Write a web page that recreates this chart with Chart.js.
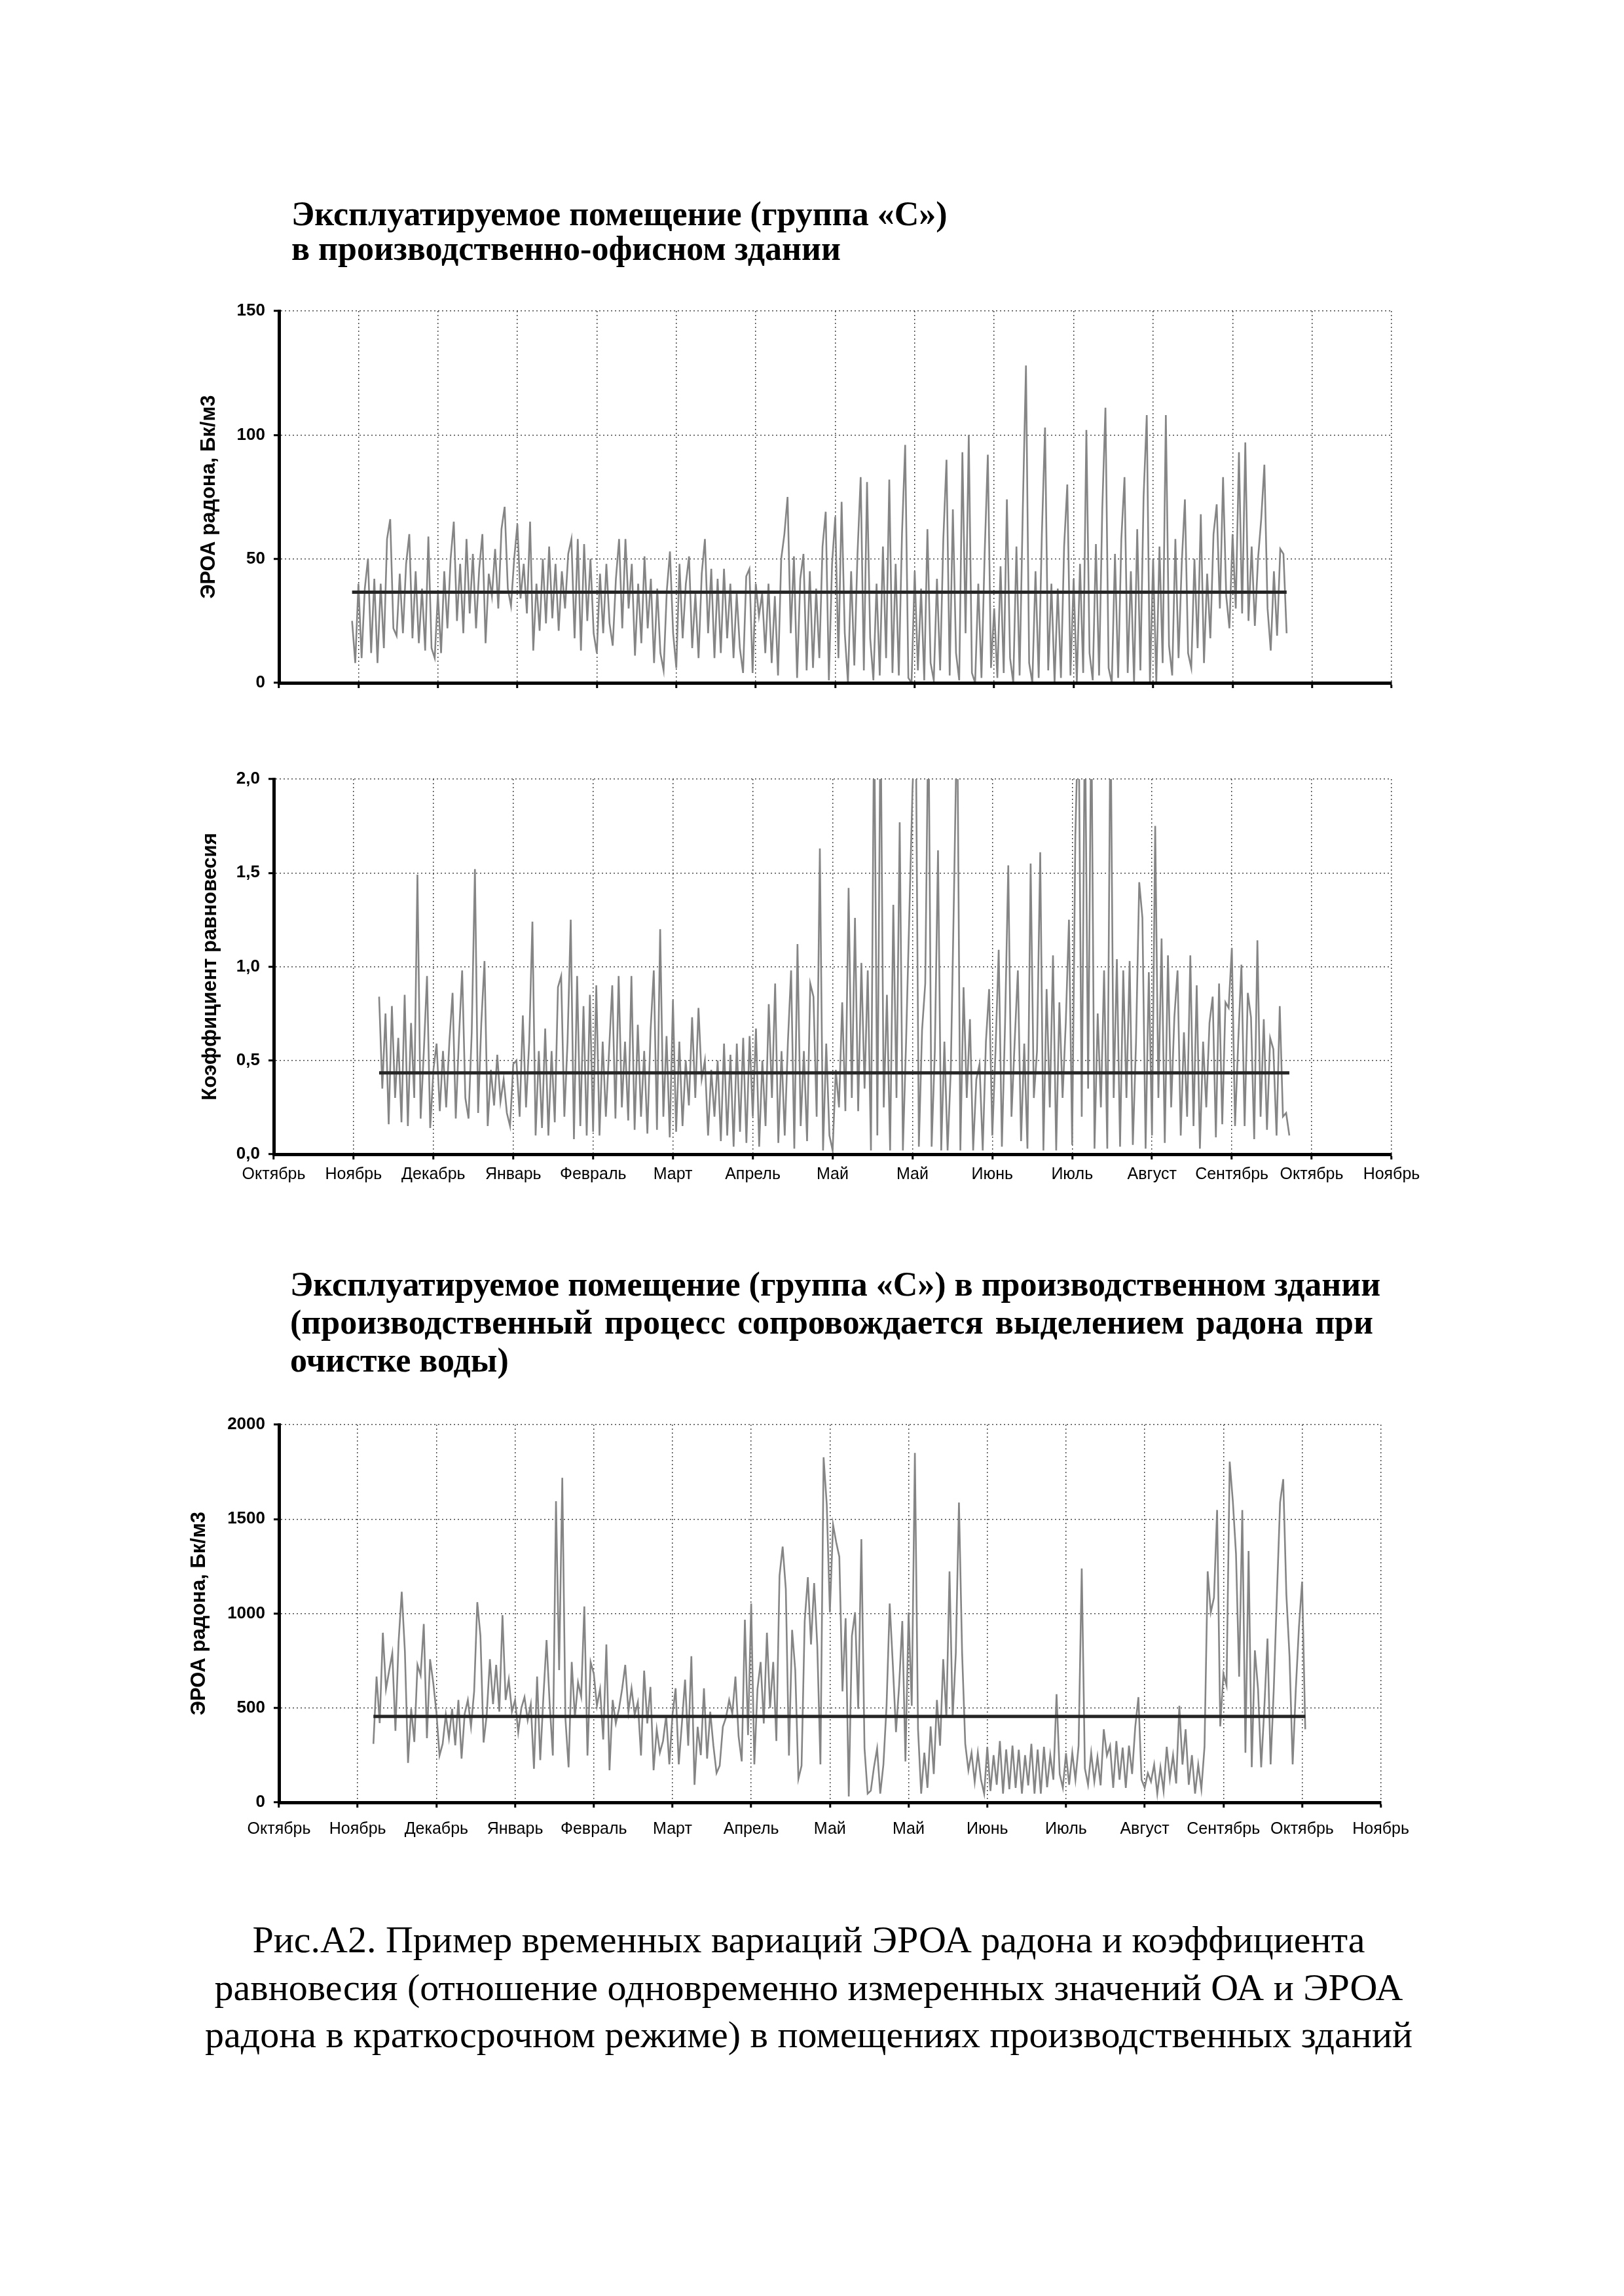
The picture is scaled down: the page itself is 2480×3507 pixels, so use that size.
<!DOCTYPE html>
<html lang="ru">
<head>
<meta charset="UTF-8">
<title>Рис.А2. Временные вариации ЭРОА радона</title>
<script src="https://cdn.jsdelivr.net/npm/chart.js"></script>
<style>
  html, body { margin: 0; padding: 0; background: #fff; }
  body {
    width: 2480px; height: 3507px; position: relative; overflow: hidden;
    font-family: 'Liberation Serif', 'Times New Roman', serif; color: #000;
  }
  .title { position: absolute; font-weight: bold; font-size: 52px; white-space: nowrap; }
  #title1 { left: 445px; top: 300px; line-height: 53px; }
  #title2 { left: 443px; top: 1933px; width: 1654px; line-height: 58px; }
  #title2 .j { text-align: justify; text-align-last: justify; }
  #caption {
    position: absolute; left: 235px; width: 2000px; top: 2927px;
    text-align: center; font-size: 58px; line-height: 72.5px; white-space: nowrap;
  }
  canvas { position: absolute; }
  #c1 { left: 250px; top: 440px; }
  #c2 { left: 250px; top: 1150px; }
  #c3 { left: 250px; top: 2136px; }
</style>
</head>
<body>
  <div class="title" id="title1">Эксплуатируемое помещение (группа «С»)<br>в производственно-офисном здании</div>
  <canvas id="c1" width="1935" height="633"></canvas>
  <canvas id="c2" width="1935" height="673"></canvas>
  <div class="title" id="title2">
    <div class="j">Эксплуатируемое помещение (группа «С») в производственном здании</div>
    <div class="j">(производственный процесс сопровождается выделением радона при</div>
    <div>очистке воды)</div>
  </div>
  <canvas id="c3" width="1920" height="687"></canvas>
  <div id="caption">Рис.А2. Пример временных вариаций ЭРОА радона и коэффициента<br>равновесия (отношение одновременно измеренных значений ОА и ЭРОА<br>радона в краткосрочном режиме) в помещениях производственных зданий</div>
<script>
const MONTHS = ['Октябрь', 'Ноябрь', 'Декабрь', 'Январь', 'Февраль', 'Март', 'Апрель',
  'Май', 'Май', 'Июнь', 'Июль', 'Август', 'Сентябрь', 'Октябрь', 'Ноябрь'];

// шаг по времени, доля месяца между соседними отсчётами
const STEP = 0.04;

// ЭРОА радона, производственно-офисное здание, Бк/м3 (с 0.92 месяца)
const EROA_OFFICE_START = 0.92;
const EROA_OFFICE_MEAN = 36.6;
const EROA_OFFICE = [
  25, 8,
  40, 10, 38, 50, 12, 42, 8, 40, 14, 58, 66, 22, 19, 44, 20, 48, 60, 18, 45, 16, 38, 13, 59, 14, 10,
  36, 12, 45, 22, 50, 65, 25, 48, 20, 58, 28, 52, 22, 46, 60, 16, 44, 35, 54, 30, 62, 71, 38, 31, 50,
  64, 34, 48, 28, 65, 13, 40, 21, 50, 24, 55, 26, 48, 21, 45, 30, 52, 58, 18, 58, 13, 56, 25, 50, 20,
  12, 44, 20, 48, 24, 15, 42, 58, 22, 58, 30, 48, 11, 40, 16, 51, 22, 42, 8, 38, 12, 5, 37, 53, 20,
  6, 48, 18, 40, 51, 14, 36, 10, 44, 58, 20, 46, 10, 42, 12, 46, 18, 40, 10, 36, 14, 4, 43, 46, 4,
  40, 27, 36, 12, 40, 8, 35, 3, 50, 60, 75, 20, 51, 2, 42, 52, 5, 45, 6, 38, 10, 55, 69, 1, 48,
  67, 10, 73, 20, 0, 45, 7, 52, 83, 5, 81, 18, 1, 40, 3, 55, 10, 82, 4, 48, 3, 60, 96, 2, 0,
  45, 5, 38, 1, 62, 8, 1, 42, 5, 58, 90, 3, 70, 12, 1, 93, 20, 100, 4, 0, 40, 2, 52, 92, 6,
  30, 2, 47, 4, 74, 10, 0, 55, 3, 70, 128, 8, 0, 45, 2, 60, 103, 5, 40, 0, 38, 2, 55, 80, 3,
  42, 0, 48, 4, 102, 12, 1, 56, 3, 70, 111, 6, 0, 52, 2, 58, 83, 4, 45, 0, 62, 5, 75, 108, 0,
  50, 0, 55, 8, 108, 15, 3, 58, 10, 48, 74, 12, 6, 50, 14, 68, 8, 44, 18, 60, 72, 30, 83, 35, 22,
  60, 30, 93, 28, 97, 25, 55, 23, 50, 66, 88, 30, 13, 45, 19, 54, 52, 20
];

// коэффициент равновесия, то же помещение (с 1.32 месяца)
const COEF_START = 1.32;
const COEF_MEAN = 0.434;
const COEF = [
  0.84, 0.35, 0.75, 0.16, 0.79, 0.30, 0.62, 0.17, 0.85, 0.15, 0.70, 0.30, 1.49, 0.19, 0.55, 0.95, 0.14,
  0.45, 0.59, 0.23, 0.55, 0.25, 0.60, 0.86, 0.19, 0.62, 0.98, 0.30, 0.19, 0.65, 1.52, 0.22, 0.70, 1.03, 0.15, 0.45, 0.26, 0.53, 0.28, 0.40, 0.22, 0.15,
  0.48, 0.50, 0.20, 0.74, 0.25, 0.60, 1.24, 0.10, 0.55, 0.14, 0.67, 0.10, 0.55, 0.17, 0.89, 0.95, 0.20, 0.60, 1.25, 0.08, 0.95, 0.15, 0.79, 0.10, 0.85,
  0.12, 0.90, 0.10, 0.60, 0.20, 0.55, 0.90, 0.19, 0.95, 0.25, 0.60, 0.18, 0.95, 0.13, 0.69, 0.20, 0.55, 0.11, 0.66, 0.98, 0.13, 1.20, 0.20, 0.63, 0.09,
  0.82, 0.12, 0.60, 0.15, 0.50, 0.26, 0.73, 0.30, 0.78, 0.40, 0.50, 0.10, 0.45, 0.20, 0.50, 0.07, 0.59, 0.10, 0.53, 0.04, 0.59, 0.12, 0.62, 0.06, 0.63,
  0.20, 0.67, 0.04, 0.50, 0.15, 0.80, 0.30, 0.91, 0.06, 0.55, 0.10, 0.60, 0.98, 0.03, 1.12, 0.15, 0.55, 0.07, 0.91, 0.84, 0.20, 1.63, 0.02, 0.59, 0.10,
  0.02, 0.45, 0.25, 0.81, 0.23, 1.42, 0.30, 1.26, 0.23, 1.02, 0.35, 0.98, 0.02, 2.4, 0.10, 2.4, 0.25, 0.85, 0.02, 1.33, 0.30, 1.77, 0.02, 0.60, 1.27,
  1.94, 2.4, 0.04, 0.66, 0.91, 2.4, 0.04, 0.55, 1.62, 0.02, 0.60, 0.02, 0.45, 1.39, 2.4, 0.02, 0.89, 0.30, 0.72, 0.02, 0.40, 0.48, 0.02, 0.60, 0.88,
  0.10, 0.55, 1.09, 0.04, 0.70, 1.54, 0.20, 0.60, 0.98, 0.07, 0.59, 0.03, 1.55, 0.30, 0.55, 1.61, 0.02, 0.88, 0.25, 1.06, 0.02, 0.81, 0.30, 0.70, 1.25,
  0.05, 1.70, 2.4, 0.20, 2.4, 0.35, 2.4, 0.03, 0.75, 0.25, 0.98, 0.03, 2.4, 0.30, 1.04, 0.04, 0.98, 0.30, 1.03, 0.05, 0.60, 1.45, 1.26, 0.03, 0.97,
  0.10, 1.75, 0.30, 1.15, 0.06, 1.06, 0.25, 0.73, 0.98, 0.10, 0.65, 0.20, 1.06, 0.15, 0.90, 0.03, 0.60, 0.25, 0.70, 0.84, 0.09, 0.91, 0.16, 0.81, 0.78,
  1.10, 0.15, 0.60, 1.01, 0.15, 0.86, 0.73, 0.08, 1.14, 0.20, 0.72, 0.13, 0.62, 0.56, 0.10, 0.79, 0.20, 0.22, 0.10
];

// ЭРОА радона, производственное здание (очистка воды), Бк/м3 (с 1.20 месяца)
const EROA_PROD_START = 1.20;
const EROA_PROD_MEAN = 455;
const EROA_PROD = [
  310, 666, 420, 898, 600, 697, 790, 379, 851, 1115, 800, 209, 495, 320, 728, 673, 944, 340, 758, 635,
  480, 248, 310, 464, 340, 495, 302, 542, 232, 470, 542, 400, 588, 1060, 882, 317, 464, 758, 520, 728, 480, 991, 542, 650, 480,
  542, 372, 500, 557, 435, 520, 178, 666, 224, 560, 859, 519, 248, 1594, 700, 1718, 441, 186, 743, 450, 635, 560, 1037, 248, 743,
  681, 511, 600, 333, 836, 170, 542, 418, 495, 600, 728, 480, 604, 464, 530, 248, 697, 418, 611, 170, 387, 263, 325, 460, 201,
  464, 604, 201, 420, 650, 300, 774, 93, 400, 250, 604, 232, 480, 300, 155, 194, 400, 449, 542, 470, 666, 350, 217, 967, 356,
  1053, 201, 600, 743, 418, 898, 500, 743, 325, 1200, 1354, 1130, 248, 913, 700, 124, 194, 960, 1192, 836, 1161, 828, 201, 1827, 1579,
  1006, 1471, 1378, 1300, 588, 975, 31, 882, 1006, 495, 1393, 286, 46, 62, 186, 286, 46, 200, 511, 1053, 728, 372, 619, 960, 217,
  1006, 511, 1850, 387, 46, 263, 77, 402, 150, 542, 300, 758, 449, 1223, 449, 790, 1587, 790, 310, 170, 263, 108, 263, 120, 46,
  294, 60, 250, 93, 325, 46, 280, 70, 300, 77, 279, 46, 250, 90, 310, 46, 280, 46, 294, 80, 250, 120, 573, 150, 77,
  260, 93, 263, 120, 300, 1238, 180, 93, 263, 110, 240, 90, 387, 248, 300, 77, 325, 120, 290, 77, 300, 150, 400, 557, 120,
  77, 155, 110, 200, 46, 186, 60, 294, 124, 250, 100, 511, 200, 387, 93, 250, 46, 200, 70, 294, 1223, 1006, 1084, 1548, 402,
  681, 619, 1804, 1594, 1316, 666, 1548, 263, 1331, 186, 805, 600, 186, 500, 867, 201, 600, 1100, 1587, 1711, 1100, 774, 201, 600, 929,
  1169, 387
];

Chart.defaults.font.family = "'Liberation Sans', Arial, sans-serif";
Chart.defaults.color = '#000';

function toPoints(values, start) {
  return values.map((v, i) => ({ x: +(start + i * STEP).toFixed(2), y: v }));
}

function drawPanel(id, p) {
  const pts = toPoints(p.values, p.start);
  const end = pts[pts.length - 1].x;
  new Chart(document.getElementById(id), {
    type: 'line',
    data: {
      datasets: [
        { data: [{ x: p.start, y: p.mean }, { x: end, y: p.mean }],
          borderColor: '#262626', borderWidth: 5, pointRadius: 0, order: 1 },
        { data: pts, borderColor: '#858585', borderWidth: 2.6, pointRadius: 0, tension: 0, order: 2 }
      ]
    },
    options: {
      responsive: false,
      animation: false,
      devicePixelRatio: 1,
      events: [],
      layout: { padding: { top: p.padTop, right: p.padRight, left: 0, bottom: 0 } },
      plugins: { legend: { display: false }, tooltip: { enabled: false } },
      scales: {
        x: {
          type: 'linear', min: 0, max: 14,
          afterFit: s => { s.height = p.xHeight; },
          ticks: {
            stepSize: 1, autoSkip: false, maxRotation: 0, minRotation: 0,
            display: p.showMonths, padding: p.monthPad,
            font: { size: 25 },
            callback: v => MONTHS[v] || ''
          },
          grid: { color: '#4a4a4a', lineWidth: 1.5, tickLength: 8, tickColor: '#000', tickWidth: 3 },
          border: { color: '#000', width: 5, dash: [2, 4], z: 1 }
        },
        y: {
          min: 0, max: p.yMax,
          afterFit: s => { s.width = p.yWidth; },
          ticks: {
            stepSize: p.yStep, padding: 13,
            font: { size: 26, weight: 'bold' },
            callback: p.yFormat
          },
          title: {
            display: true, text: p.yTitle,
            font: { size: 31, weight: 'bold' },
            padding: { top: p.titlePad, bottom: 0 }
          },
          grid: { color: '#4a4a4a', lineWidth: 1.5, tickLength: 8, tickColor: '#000', tickWidth: 3 },
          border: { color: '#000', width: 5, dash: [2, 4], z: 1 }
        }
      }
    }
  });
}

drawPanel('c1', {
  values: EROA_OFFICE, start: EROA_OFFICE_START, mean: EROA_OFFICE_MEAN,
  yMax: 150, yStep: 50, yFormat: v => v, yTitle: 'ЭРОА радона, Бк/м3',
  yWidth: 176, titlePad: 51, padTop: 35, padRight: 60,
  xHeight: 30, showMonths: false, monthPad: 8
});

drawPanel('c2', {
  values: COEF, start: COEF_START, mean: COEF_MEAN,
  yMax: 2, yStep: 0.5, yFormat: v => v.toFixed(1).replace('.', ','), yTitle: 'Коэффициент равновесия',
  yWidth: 168, titlePad: 53, padTop: 40, padRight: 60,
  xHeight: 60, showMonths: true, monthPad: 8
});

drawPanel('c3', {
  values: EROA_PROD, start: EROA_PROD_START, mean: EROA_PROD_MEAN,
  yMax: 2000, yStep: 500, yFormat: v => v, yTitle: 'ЭРОА радона, Бк/м3',
  yWidth: 176, titlePad: 36, padTop: 40, padRight: 60,
  xHeight: 70, showMonths: true, monthPad: 18
});
</script>
</body>
</html>
